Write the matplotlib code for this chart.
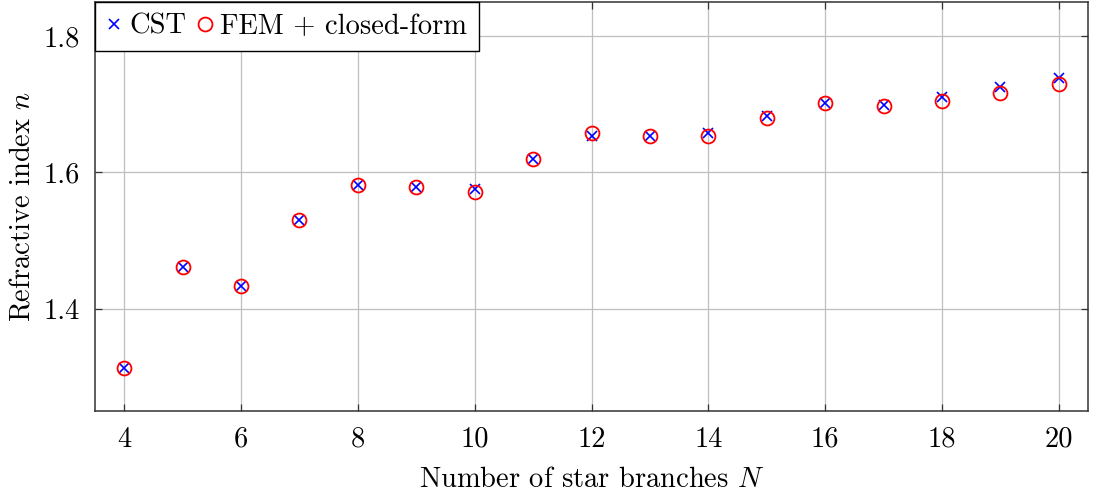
import matplotlib
matplotlib.use("Agg")
import matplotlib.pyplot as plt

plt.rcParams['font.family'] = 'serif'
plt.rcParams['font.serif'] = ['cmr10', 'DejaVu Serif']
plt.rcParams['mathtext.fontset'] = 'cm'
plt.rcParams['axes.formatter.use_mathtext'] = True

N = [4, 5, 6, 7, 8, 9, 10, 11, 12, 13, 14, 15, 16, 17, 18, 19, 20]
n_cst = [1.313, 1.461, 1.434, 1.530, 1.581, 1.578, 1.575, 1.620, 1.654, 1.653,
         1.658, 1.683, 1.702, 1.699, 1.710, 1.726, 1.739]
n_fem = [1.313, 1.461, 1.434, 1.530, 1.582, 1.578, 1.571, 1.620, 1.658, 1.653,
         1.654, 1.680, 1.702, 1.697, 1.705, 1.717, 1.730]
xticks = [4, 6, 8, 10, 12, 14, 16, 18, 20]
yticks = [1.4, 1.6, 1.8]

fig = plt.figure(figsize=(10.95, 4.96), dpi=100)
ax = fig.add_axes([95/1095, 85/496, 993/1095, 409/496])

ax.plot(N, n_cst, linestyle='none', marker='x', color='blue', markersize=6.5,
        markeredgewidth=1.2, label='CST', zorder=3)
ax.plot(N, n_fem, linestyle='none', marker='o', markerfacecolor='none',
        markeredgecolor='red', markersize=10, markeredgewidth=1.3,
        label='FEM + closed-form', zorder=3)

ax.set_xlim(3.5, 20.5)
ax.set_ylim(1.25, 1.85)
ax.set_xticks(xticks)
ax.set_yticks(yticks)
ax.set_xticklabels([str(t) for t in xticks])
ax.set_yticklabels([f"{t:.1f}" for t in yticks])
ax.grid(True, color='#bfbfbf', linewidth=0.9)
ax.set_axisbelow(True)
ax.tick_params(direction='in', top=True, right=True, length=5, width=0.9,
               labelsize=20.5, pad=11, colors='#333333', labelcolor='black')
for s in ax.spines.values():
    s.set_linewidth(1.1)
    s.set_color('#333333')

ax.set_xlabel('Number of star branches $N$', fontsize=20.5, labelpad=10)
ax.set_ylabel('Refractive index $n$', fontsize=20.5, labelpad=6)

leg = ax.legend(loc='upper left', bbox_to_anchor=(0, 1), borderaxespad=0,
                ncol=2, fontsize=20.5, frameon=True, fancybox=False,
                edgecolor='black', framealpha=1, handlelength=0.5,
                handletextpad=0.3, columnspacing=0.4, borderpad=0.4)
leg.get_frame().set_linewidth(1.0)

fig.savefig('out.png', dpi=100)
